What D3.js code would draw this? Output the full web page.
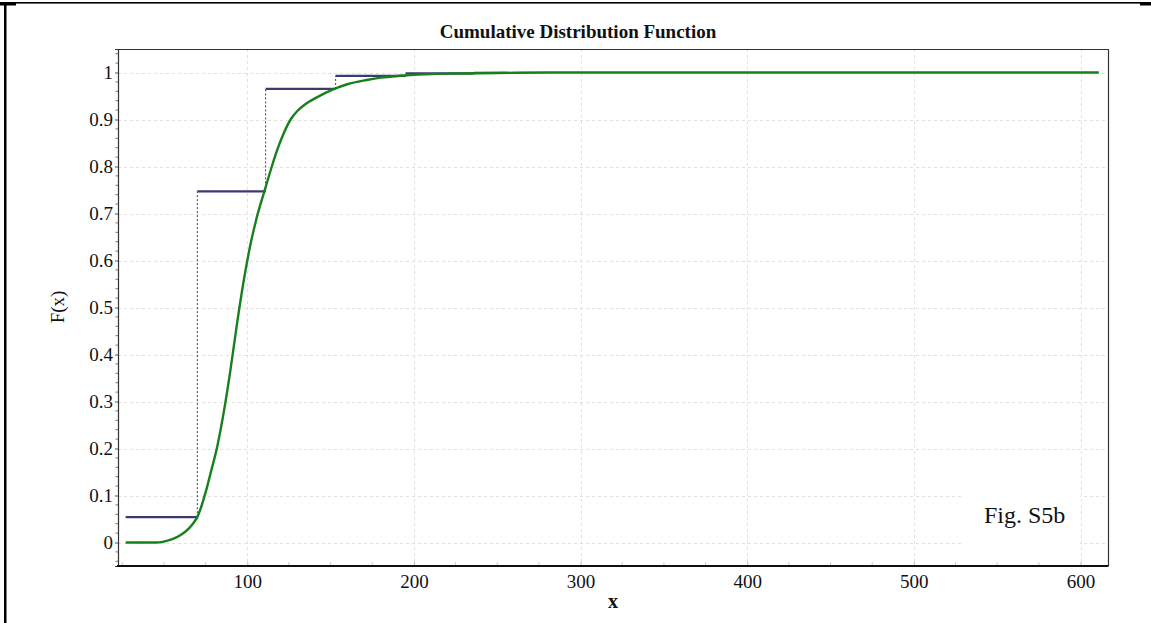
<!DOCTYPE html>
<html>
<head>
<meta charset="utf-8">
<script src="https://cdn.jsdelivr.net/npm/d3@7"></script>
<style>
  html, body { margin: 0; padding: 0; background: #fff; }
  svg { display: block; }
  text { font-family: "Liberation Serif", "Times New Roman", serif; fill: #111; }
</style>
</head>
<body>
<svg id="chart" width="1151" height="623"></svg>
<script>
// Empirical CDF: step starts and cumulative fractions
const stepX = [27, 70, 111, 153, 195, 236, 255];
const stepF = [0.054, 0.747, 0.965, 0.993, 0.998, 0.999, 1];

// Fitted CDF curve
const cdfX = [27, 45, 50, 55, 60, 65, 68, 70, 72, 74, 76, 78, 82, 86, 90, 94, 98, 102, 106, 111, 114, 118, 122, 126, 130, 135, 141.7, 151.5, 160, 171.7, 180, 191.6, 200, 215, 230, 250, 280, 611];
const cdfF = [0, 0, 0.002, 0.007, 0.016, 0.03, 0.043, 0.054, 0.072, 0.095, 0.12, 0.148, 0.205, 0.28, 0.37, 0.47, 0.56, 0.636, 0.696, 0.756, 0.792, 0.836, 0.872, 0.9, 0.918, 0.933, 0.947, 0.964, 0.975, 0.984, 0.989, 0.993, 0.995, 0.997, 0.998, 0.999, 1, 1];

const xTicks = [100, 200, 300, 400, 500, 600];
const yTicks = [0, 0.1, 0.2, 0.3, 0.4, 0.5, 0.6, 0.7, 0.8, 0.9, 1];

const titleText = "Cumulative Distribution Function";
const xLabel = "x";
const yLabel = "F(x)";
const figNote = "Fig. S5b";

const svg = d3.select("#chart");
const W = 1151, H = 623;
const plot = { left: 118, right: 1108.5, top: 49, bottom: 566 };

const x = d3.scaleLinear().domain([22.4, 616.8]).range([plot.left, plot.right]);
const y = d3.scaleLinear().domain([-0.05, 1.05]).range([plot.bottom, plot.top]);

svg.append("rect").attr("width", W).attr("height", H).attr("fill", "#fff");

// Page frame
svg.append("rect").attr("x", 0).attr("y", 2).attr("width", 16).attr("height", 3.5).attr("fill", "#000");
svg.append("rect").attr("x", 4).attr("y", 2).attr("width", 2.5).attr("height", H - 2).attr("fill", "#000");
svg.append("rect").attr("x", 4).attr("y", 2).attr("width", 1138).attr("height", 1.6).attr("fill", "#000");
svg.append("rect").attr("x", 1140).attr("y", 2).attr("width", 11).attr("height", 3.5).attr("fill", "#000");

// Horizontal grid
const hgrid = svg.append("g").attr("stroke", "#e0e0e0").attr("stroke-width", 1).attr("stroke-dasharray", "3,3");
hgrid.selectAll("line").data(yTicks).join("line")
  .attr("x1", plot.left).attr("x2", plot.right)
  .attr("y1", d => Math.round(y(d)) + 0.5).attr("y2", d => Math.round(y(d)) + 0.5);

// White box behind the figure note
svg.append("rect").attr("x", 962).attr("y", 470).attr("width", 118).attr("height", 90).attr("fill", "#fff");

// Vertical grid
const vgrid = svg.append("g").attr("stroke", "#e0e0e0").attr("stroke-width", 1).attr("stroke-dasharray", "3,3");
vgrid.selectAll("line").data(xTicks).join("line")
  .attr("y1", plot.top).attr("y2", plot.bottom)
  .attr("x1", d => Math.round(x(d)) + 0.5).attr("x2", d => Math.round(x(d)) + 0.5);

// Empirical step segments
const segs = stepX.slice(0, -1).map((d, i) => ({ x0: d, x1: stepX[i + 1], f: stepF[i], prev: i > 0 ? stepF[i - 1] : null }));
svg.append("g").selectAll("line").data(segs.filter(s => s.prev !== null)).join("line")
  .attr("x1", s => x(s.x0)).attr("x2", s => x(s.x0))
  .attr("y1", s => y(s.prev)).attr("y2", s => y(s.f))
  .attr("stroke", "#3a3a6e").attr("stroke-width", 1).attr("stroke-dasharray", "2,2");
svg.append("g").selectAll("line").data(segs).join("line")
  .attr("x1", s => x(s.x0)).attr("x2", s => x(s.x1))
  .attr("y1", s => y(s.f)).attr("y2", s => y(s.f))
  .attr("stroke", "#3b3b74").attr("stroke-width", 2.2);

// Fitted curve
const line = d3.line().x(d => x(d[0])).y(d => y(d[1])).curve(d3.curveMonotoneX);
svg.append("path").datum(cdfX.map((d, i) => [d, cdfF[i]]))
  .attr("d", line).attr("fill", "none")
  .attr("stroke", "#17801c").attr("stroke-width", 2.4).attr("stroke-linejoin", "round");

// Plot frame: top and right
svg.append("path")
  .attr("d", `M${plot.left},${plot.top + 0.5}H${plot.right}V${plot.bottom}`)
  .attr("fill", "none").attr("stroke", "#333").attr("stroke-width", 1.2);

// Y axis
const yAxis = d3.axisLeft(y).tickValues(yTicks).tickSize(3).tickPadding(2).tickFormat(d3.format("~g"));
const gy = svg.append("g").attr("transform", `translate(${plot.left},0)`).call(yAxis);
gy.select(".domain").attr("stroke", "#333").attr("stroke-width", 1.2);
gy.selectAll(".tick line").attr("stroke", "#555");
gy.selectAll(".tick text").style("font-size", "19px").attr("font-family", null);
const yMinor = d3.range(-0.04, 1.05, 0.02).filter(v => yTicks.every(t => Math.abs(t - v) > 1e-6));
svg.append("g").selectAll("line").data(yMinor).join("line")
  .attr("x1", plot.left - 2.5).attr("x2", plot.left)
  .attr("y1", d => y(d)).attr("y2", d => y(d))
  .attr("stroke", "#777").attr("stroke-width", 1);

// X axis
const xAxis = d3.axisBottom(x).tickValues(xTicks).tickSize(-4).tickPadding(9).tickFormat(d3.format("d"));
const gx = svg.append("g").attr("transform", `translate(0,${plot.bottom})`).call(xAxis);
gx.select(".domain").remove();
gx.selectAll(".tick line").attr("stroke", "#bbb");
gx.selectAll(".tick text").style("font-size", "19px").attr("font-family", null);
const xMinor = d3.range(25, 616, 25).filter(v => v % 100 !== 0);
svg.append("g").selectAll("line").data(xMinor).join("line")
  .attr("x1", d => x(d)).attr("x2", d => x(d))
  .attr("y1", plot.bottom - 4).attr("y2", plot.bottom)
  .attr("stroke", "#ccc").attr("stroke-width", 1);
svg.append("line").attr("x1", plot.left - 1).attr("x2", plot.right)
  .attr("y1", plot.bottom).attr("y2", plot.bottom)
  .attr("stroke", "#111").attr("stroke-width", 2);

// Titles and labels
svg.append("text").attr("x", 578).attr("y", 38).attr("text-anchor", "middle")
  .style("font-size", "19px").style("font-weight", "bold").text(titleText);
svg.append("text").attr("x", 613).attr("y", 608).attr("text-anchor", "middle")
  .style("font-size", "20px").style("font-weight", "bold").text(xLabel);
svg.append("text").attr("transform", "translate(64,307) rotate(-90)").attr("text-anchor", "middle")
  .style("font-size", "19px").text(yLabel);
svg.append("text").attr("x", 984).attr("y", 523)
  .style("font-size", "24px").text(figNote);
</script>
</body>
</html>
